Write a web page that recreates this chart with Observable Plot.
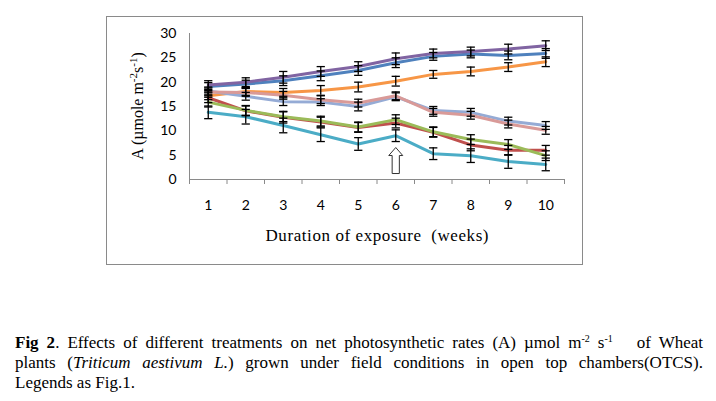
<!DOCTYPE html>
<html><head><meta charset="utf-8">
<script src="https://cdn.jsdelivr.net/npm/d3@7"></script>
<script src="https://cdn.jsdelivr.net/npm/@observablehq/plot@0.6"></script>
<style>
html,body{margin:0;padding:0;background:#fff;}
#wrap{position:relative;width:716px;height:401px;overflow:hidden;background:#fff;}
#chart{position:absolute;left:0;top:0;}
#caption{position:absolute;left:15px;top:333px;width:688px;font-family:"Liberation Serif","Times New Roman",serif;font-size:17px;line-height:20px;color:#000;}
#caption .j{text-align:justify;text-align-last:justify;}
#caption sup{font-size:10px;vertical-align:6px;line-height:0;}
</style></head><body>
<div id="wrap"><div id="chart"></div>
<div id="caption">
<div class="j"><b>Fig 2</b>. Effects of different treatments on net photosynthetic rates (A) µmol m<sup>-2</sup> s<sup>-1</sup>&nbsp;&nbsp; of Wheat</div>
<div class="j">plants (<i>Triticum aestivum L.</i>) grown under field conditions in open top chambers(OTCS).</div>
<div>Legends as Fig.1.</div>
</div></div>
<script>
const weeks = [1, 2, 3, 4, 5, 6, 7, 8, 9, 10];
const bandEdges = [0.5, 1.5, 2.5, 3.5, 4.5, 5.5, 6.5, 7.5, 8.5, 9.5, 10.5];
const yTicks = [0, 5, 10, 15, 20, 25, 30];

const purple    = [19.4, 20.0, 21.0, 22.2, 23.2, 24.8, 25.9, 26.3, 26.8, 27.5];
const blue      = [19.1, 19.6, 20.3, 21.3, 22.4, 24.0, 25.3, 25.8, 25.5, 25.9];
const orange    = [17.2, 18.1, 17.9, 18.3, 19.0, 20.2, 21.6, 22.2, 23.1, 24.2];
const lightBlue = [18.2, 17.1, 16.0, 15.9, 15.0, 17.0, 14.2, 13.8, 12.0, 11.1];
const pink      = [18.0, 17.9, 17.3, 16.4, 15.7, 17.2, 13.8, 13.2, 11.4, 10.1];
const red       = [16.8, 14.1, 12.8, 11.8, 10.7, 11.6, 9.7, 7.1, 6.0, 6.0];
const green     = [15.9, 14.2, 12.9, 12.0, 10.8, 12.3, 9.8, 8.2, 7.2, 4.9];
const teal      = [13.8, 12.9, 11.1, 9.2, 7.3, 9.0, 5.3, 4.9, 3.7, 3.1];

const purpleErr    = [0.9, 0.9, 1.2, 1.0, 1.0, 1.2, 0.9, 0.9, 1.0, 1.0];
const blueErr      = [0.8, 0.8, 1.0, 1.0, 1.0, 1.0, 0.8, 0.8, 0.9, 1.0];
const orangeErr    = [0.8, 0.8, 0.8, 1.0, 1.0, 1.0, 0.8, 0.9, 0.9, 1.0];
const lightBlueErr = [0.8, 0.8, 0.8, 0.7, 0.9, 0.8, 0.8, 0.8, 0.8, 0.8];
const pinkErr      = [0.8, 0.8, 0.8, 0.8, 0.8, 0.8, 0.8, 0.8, 0.8, 0.8];
const redErr       = [1.0, 1.0, 1.2, 1.0, 1.0, 1.0, 1.0, 1.2, 1.0, 1.0];
const greenErr     = [1.0, 1.0, 1.0, 1.0, 1.0, 1.0, 1.0, 1.0, 1.0, 1.0];
const tealErr      = [1.3, 1.5, 1.5, 1.4, 1.3, 1.2, 1.2, 1.4, 1.4, 1.3];

const seriesDefs = [
  {name: "S-blue", values: blue, err: blueErr, color: "#4F81BD"},
  {name: "S-red", values: red, err: redErr, color: "#C0504D"},
  {name: "S-green", values: green, err: greenErr, color: "#9BBB59"},
  {name: "S-purple", values: purple, err: purpleErr, color: "#8064A2"},
  {name: "S-teal", values: teal, err: tealErr, color: "#4BACC6"},
  {name: "S-orange", values: orange, err: orangeErr, color: "#F79646"},
  {name: "S-lightblue", values: lightBlue, err: lightBlueErr, color: "#95ABD5"},
  {name: "S-pink", values: pink, err: pinkErr, color: "#D99A98"}
];

const rows = seriesDefs.flatMap(s => weeks.map((w, i) => ({series: s.name, week: w, value: s.values[i], err: s.err[i]})));
const arrowWeek = 6, arrowValue = 3.9;
const capHalf = 0.11;

const arrowSymbol = {
  draw(context) {
    context.moveTo(0, -13);
    context.lineTo(7, -5);
    context.lineTo(3.6, -5);
    context.lineTo(3.6, 13);
    context.lineTo(-3.6, 13);
    context.lineTo(-3.6, -5);
    context.lineTo(-7, -5);
    context.closePath();
  }
};

const plot = Plot.plot({
  width: 716,
  height: 270,
  marginLeft: 189,
  marginRight: 152,
  marginTop: 33,
  marginBottom: 91,
  style: {fontFamily: "Lato, 'Liberation Sans', sans-serif", fontSize: "14px", color: "#000", background: "transparent"},
  x: {domain: [0.5, 10.5]},
  y: {domain: [0, 30]},
  color: {type: "ordinal", domain: seriesDefs.map(s => s.name), range: seriesDefs.map(s => s.color)},
  marks: [
    Plot.axisY({ticks: yTicks, tickSize: 0, tickPadding: 13, label: null, fontSize: 14}),
    Plot.axisX({ticks: weeks, tickSize: 0, tickPadding: 21, label: null, fontSize: 14, tickFormat: d => String(d)}),
    Plot.axisX({ticks: bandEdges, tickSize: 5, tickFormat: () => "", label: null, stroke: "#8a8a8a"}),
    Plot.ruleY([0], {stroke: "#8a8a8a", strokeWidth: 1}),
    Plot.ruleX([0.5], {stroke: "#8a8a8a", strokeWidth: 1}),
    Plot.line(rows, {x: "week", y: "value", z: "series", stroke: "series", strokeWidth: 3}),
    Plot.ruleX(rows, {x: "week", y1: d => d.value - d.err, y2: d => d.value + d.err, stroke: "#000", strokeWidth: 1.3}),
    Plot.link(rows, {x1: d => d.week - capHalf, x2: d => d.week + capHalf, y1: d => d.value - d.err, y2: d => d.value - d.err, stroke: "#000", strokeWidth: 1.3}),
    Plot.link(rows, {x1: d => d.week - capHalf, x2: d => d.week + capHalf, y1: d => d.value + d.err, y2: d => d.value + d.err, stroke: "#000", strokeWidth: 1.3}),
    Plot.dot([{week: arrowWeek, value: arrowValue}], {x: "week", y: "value", symbol: arrowSymbol, r: 10, fill: "#fff", stroke: "#333", strokeWidth: 1})
  ]
});

const svg = d3.select(plot);
svg.insert("rect", ":first-child")
  .attr("x", 106.5).attr("y", 16.5).attr("width", 476).attr("height", 248)
  .attr("fill", "#fff").attr("stroke", "#8a8a8a").attr("stroke-width", 1);

const serif = "'Liberation Serif', 'DejaVu Serif', serif";
svg.append("text")
  .attr("x", 377).attr("y", 241)
  .attr("text-anchor", "middle")
  .attr("font-family", serif).attr("font-size", 17)
  .attr("textLength", 223).attr("lengthAdjust", "spacing")
  .attr("fill", "#000")
  .text("Duration of exposure  (weeks)")
  .style("white-space", "pre");

const yt = svg.append("text")
  .attr("transform", "translate(143,106) rotate(-90)")
  .attr("text-anchor", "middle")
  .attr("font-family", serif).attr("font-size", 16)
  .attr("fill", "#000");
yt.append("tspan").text("A (µmole m");
yt.append("tspan").attr("font-size", 11).attr("dy", -6).text("-2");
yt.append("tspan").attr("dy", 6).text("s");
yt.append("tspan").attr("font-size", 11).attr("dy", -6).text("-1");
yt.append("tspan").attr("dy", 6).text(")");

document.getElementById("chart").appendChild(plot);
</script>
</body></html>
